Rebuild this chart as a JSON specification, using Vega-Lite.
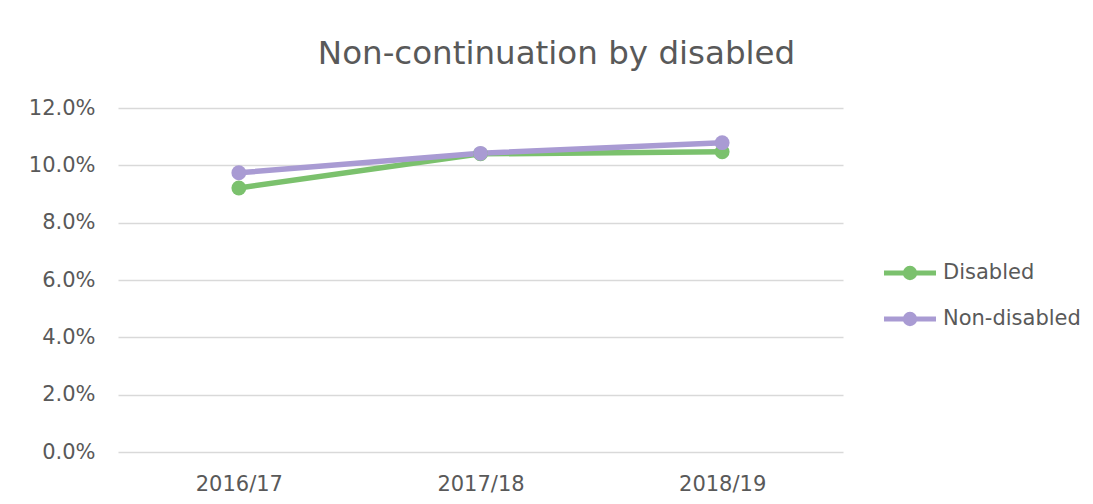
{
  "$schema": "https://vega.github.io/schema/vega-lite/v6.json",
  "autosize": "none",
  "width": 725,
  "height": 344,
  "padding": {"left": 118, "top": 108, "right": 250, "bottom": 52},
  "background": "white",
  "title": {
    "text": "Non-continuation by disabled",
    "fontSize": 32.5,
    "font": "DejaVu Sans",
    "fontWeight": "normal",
    "color": "#595959",
    "anchor": "middle",
    "dx": 76,
    "offset": 27
  },
  "data": {
    "values": [
      {"year": "2016/17", "group": "Disabled", "rate": 0.0921},
      {"year": "2017/18", "group": "Disabled", "rate": 0.1040},
      {"year": "2018/19", "group": "Disabled", "rate": 0.1047},
      {"year": "2016/17", "group": "Non-disabled", "rate": 0.0974},
      {"year": "2017/18", "group": "Non-disabled", "rate": 0.1042},
      {"year": "2018/19", "group": "Non-disabled", "rate": 0.1079}
    ]
  },
  "encoding": {
    "x": {
      "field": "year",
      "type": "ordinal",
      "scale": {"type": "point", "padding": 0.5},
      "axis": {
        "title": null,
        "labelAngle": 0,
        "domain": false,
        "ticks": false,
        "grid": false,
        "labelPadding": 21,
        "labelFontSize": 21,
        "labelFont": "DejaVu Sans",
        "labelColor": "#595959"
      }
    },
    "y": {
      "field": "rate",
      "type": "quantitative",
      "scale": {"domain": [0, 0.12], "nice": false},
      "axis": {
        "title": null,
        "format": ".1%",
        "values": [0, 0.02, 0.04, 0.06, 0.08, 0.1, 0.12],
        "domain": false,
        "ticks": false,
        "gridColor": "#d9d9d9",
        "gridWidth": 1.3,
        "labelPadding": 23,
        "labelFontSize": 21,
        "labelFont": "DejaVu Sans",
        "labelColor": "#595959"
      }
    },
    "color": {
      "field": "group",
      "type": "nominal",
      "scale": {"domain": ["Disabled", "Non-disabled"], "range": ["#7BC16D", "#A99BD3"]},
      "legend": {
        "title": null,
        "orient": "none",
        "legendX": 779,
        "legendY": 152,
        "labelFontSize": 21,
        "labelFont": "DejaVu Sans",
        "labelColor": "#595959",
        "labelOffset": 20,
        "rowPadding": 16,
        "symbolType": "M-2.5,0H2.5M-0.45,0A0.45,0.45 0 1,1 0.45,0A0.45,0.45 0 1,1 -0.45,0Z",
        "symbolSize": 433,
        "symbolStrokeWidth": 5,
        "encode": {
          "symbols": {
            "update": {
              "fill": {"scale": "color", "field": "value"},
              "stroke": {"scale": "color", "field": "value"},
              "opacity": {"value": 1}
            }
          }
        }
      }
    }
  },
  "layer": [
    {"mark": {"type": "line", "strokeWidth": 5.5}},
    {"mark": {"type": "point", "filled": true, "size": 220, "opacity": 1}}
  ],
  "config": {"view": {"stroke": null}}
}
